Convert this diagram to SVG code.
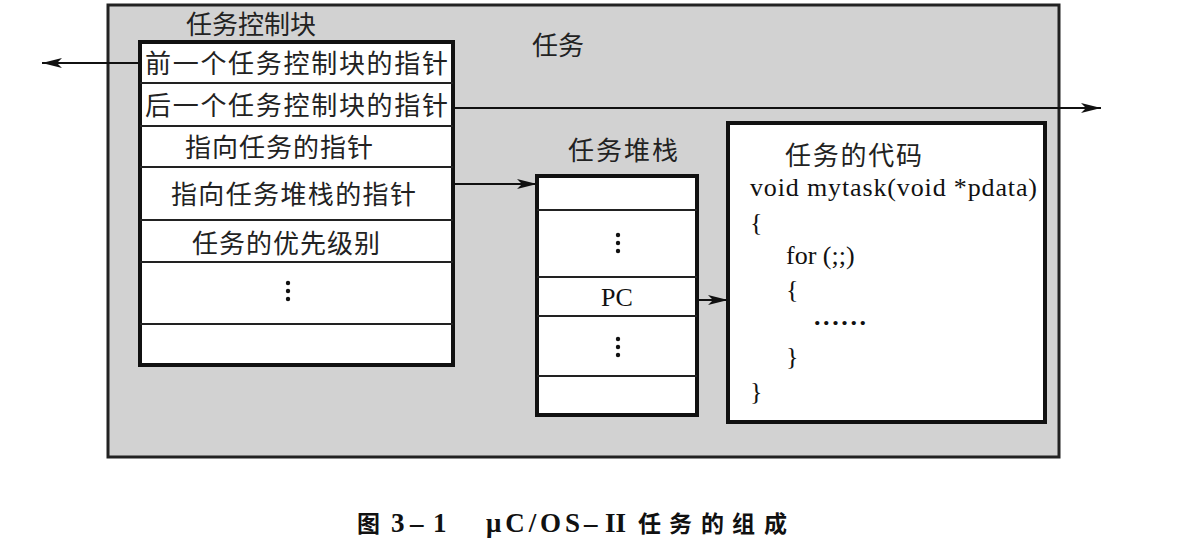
<svg xmlns="http://www.w3.org/2000/svg" width="1179" height="543" viewBox="0 0 1179 543">
<defs>
<style>
.cjk{font-family:"Liberation Serif","Noto Sans CJK SC",serif;font-size:26px;fill:#222}
.code{font-family:"Liberation Serif","Noto Sans CJK SC",serif;font-size:26px;fill:#111}
.box{fill:#fff;stroke:#111;stroke-width:4}
.row{stroke:#222;stroke-width:2}
.conn{stroke:#111;stroke-width:2;fill:none}
.cap{font-family:"Liberation Serif","Noto Sans CJK SC",serif;font-size:27px;font-weight:bold;fill:#111}
.capc{font-size:23px}
</style>
<marker id="ah" viewBox="0 0 20 10" refX="20" refY="5" markerWidth="20" markerHeight="10" markerUnits="userSpaceOnUse" orient="auto">
<path d="M0,0 L20,5 L0,10 L5,5 Z" fill="#111"/>
</marker>
</defs>
<rect width="1179" height="543" fill="#fff"/>
<g id="task">
<rect x="108" y="5" width="951" height="452" fill="#d2d2d2" stroke="#222" stroke-width="3"/>
<text class="cjk" x="532" y="55">任务</text>
</g>
<g id="tcb">
<text class="cjk" x="186" y="34">任务控制块</text>
<rect class="box" x="140" y="42" width="313" height="323"/>
<line class="row" x1="140" y1="83" x2="453" y2="83"/>
<line class="row" x1="140" y1="126" x2="453" y2="126"/>
<line class="row" x1="140" y1="167" x2="453" y2="167"/>
<line class="row" x1="140" y1="220" x2="453" y2="220"/>
<line class="row" x1="140" y1="262" x2="453" y2="262"/>
<line class="row" x1="140" y1="324" x2="453" y2="324"/>
<text class="cjk" x="145" y="73" textLength="303">前一个任务控制块的指针</text>
<text class="cjk" x="145" y="115" textLength="303">后一个任务控制块的指针</text>
<text class="cjk" x="185" y="157" textLength="188">指向任务的指针</text>
<text class="cjk" x="171" y="204" textLength="245">指向任务堆栈的指针</text>
<text class="cjk" x="192" y="253" textLength="188">任务的优先级别</text>
<g fill="#111"><circle cx="288" cy="283" r="2.2"/><circle cx="288" cy="291" r="2.2"/><circle cx="288" cy="299" r="2.2"/></g>
</g>
<g id="stack">
<text class="cjk" x="568" y="160" textLength="110">任务堆栈</text>
<rect class="box" x="537" y="176" width="160" height="239"/>
<line class="row" x1="537" y1="210" x2="697" y2="210"/>
<line class="row" x1="537" y1="277" x2="697" y2="277"/>
<line class="row" x1="537" y1="316" x2="697" y2="316"/>
<line class="row" x1="537" y1="376" x2="697" y2="376"/>
<g fill="#111"><circle cx="618" cy="235" r="2.2"/><circle cx="618" cy="243" r="2.2"/><circle cx="618" cy="251" r="2.2"/>
<circle cx="618" cy="339" r="2.2"/><circle cx="618" cy="347" r="2.2"/><circle cx="618" cy="355" r="2.2"/></g>
<text class="code" x="617" y="306" text-anchor="middle">PC</text>
</g>
<g id="code">
<rect class="box" x="728" y="123" width="317" height="299"/>
<text class="cjk" x="785" y="165" textLength="137">任务的代码</text>
<text class="code" x="750" y="196" textLength="287">void mytask(void *pdata)</text>
<text class="code" x="750" y="231">{</text>
<text class="code" x="786" y="264">for (;;)</text>
<text class="code" x="786" y="298">{</text>
<text class="code" x="814" y="325" font-weight="bold" textLength="52">......</text>
<text class="code" x="786" y="365">}</text>
<text class="code" x="750" y="400">}</text>
</g>
<g id="connectors">
<line class="conn" x1="140" y1="63" x2="42" y2="63" marker-end="url(#ah)"/>
<line class="conn" x1="453" y1="108" x2="1101" y2="108" marker-end="url(#ah)"/>
<line class="conn" x1="453" y1="184" x2="537" y2="184" marker-end="url(#ah)"/>
<line class="conn" x1="697" y1="300" x2="728" y2="300" marker-end="url(#ah)"/>
</g>
<text class="cap" y="532"><tspan class="capc" x="357">图</tspan><tspan x="391">3</tspan><tspan x="410">–</tspan><tspan x="433">1</tspan><tspan x="486" textLength="94">μC/OS</tspan><tspan x="584">–</tspan><tspan x="605">II</tspan><tspan class="capc" x="638 669 701 732 764">任务的组成</tspan></text>
</svg>
